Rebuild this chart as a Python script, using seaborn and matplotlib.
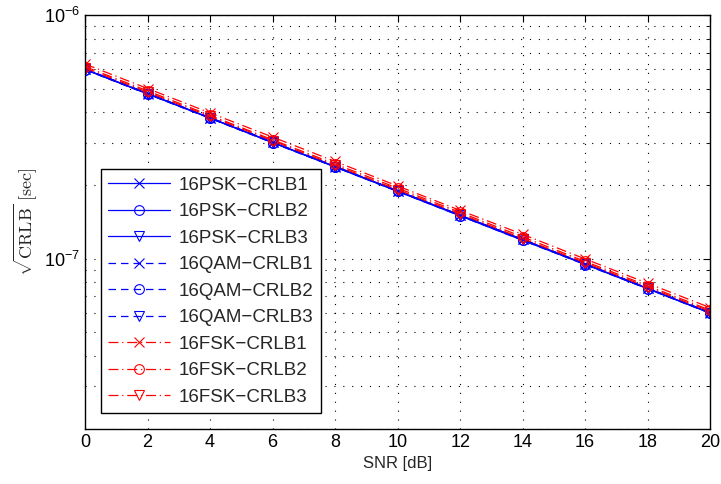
import matplotlib
matplotlib.use('Agg')
import matplotlib.pyplot as plt
from matplotlib.ticker import FixedLocator, LogLocator, FuncFormatter, NullFormatter
import numpy as np
import seaborn as sns

# SNR axis
snr = [0, 2, 4, 6, 8, 10, 12, 14, 16, 18, 20]

# sqrt(CRLB) in seconds
psk_crlb1 = [6.00e-7, 4.77e-7, 3.79e-7, 3.01e-7, 2.39e-7, 1.90e-7, 1.51e-7, 1.20e-7, 9.52e-8, 7.56e-8, 6.00e-8]
psk_crlb2 = [5.98e-7, 4.75e-7, 3.78e-7, 3.00e-7, 2.38e-7, 1.89e-7, 1.50e-7, 1.19e-7, 9.48e-8, 7.53e-8, 5.98e-8]
psk_crlb3 = [5.99e-7, 4.76e-7, 3.78e-7, 3.00e-7, 2.39e-7, 1.90e-7, 1.51e-7, 1.20e-7, 9.50e-8, 7.55e-8, 5.99e-8]
qam_crlb1 = [6.02e-7, 4.78e-7, 3.80e-7, 3.02e-7, 2.40e-7, 1.90e-7, 1.51e-7, 1.20e-7, 9.55e-8, 7.58e-8, 6.02e-8]
qam_crlb2 = [5.97e-7, 4.74e-7, 3.77e-7, 2.99e-7, 2.38e-7, 1.89e-7, 1.50e-7, 1.19e-7, 9.46e-8, 7.52e-8, 5.97e-8]
qam_crlb3 = [6.01e-7, 4.77e-7, 3.79e-7, 3.01e-7, 2.39e-7, 1.90e-7, 1.51e-7, 1.20e-7, 9.53e-8, 7.57e-8, 6.01e-8]
fsk_crlb1 = [6.30e-7, 5.00e-7, 3.97e-7, 3.16e-7, 2.51e-7, 1.99e-7, 1.58e-7, 1.26e-7, 9.98e-8, 7.93e-8, 6.30e-8]
fsk_crlb2 = [6.15e-7, 4.89e-7, 3.88e-7, 3.08e-7, 2.45e-7, 1.95e-7, 1.55e-7, 1.23e-7, 9.75e-8, 7.75e-8, 6.15e-8]
fsk_crlb3 = [6.08e-7, 4.83e-7, 3.84e-7, 3.05e-7, 2.42e-7, 1.92e-7, 1.53e-7, 1.21e-7, 9.63e-8, 7.65e-8, 6.08e-8]

labels = ['16PSK\u2212CRLB1', '16PSK\u2212CRLB2', '16PSK\u2212CRLB3',
          '16QAM\u2212CRLB1', '16QAM\u2212CRLB2', '16QAM\u2212CRLB3',
          '16FSK\u2212CRLB1', '16FSK\u2212CRLB2', '16FSK\u2212CRLB3']
series = [psk_crlb1, psk_crlb2, psk_crlb3, qam_crlb1, qam_crlb2, qam_crlb3,
          fsk_crlb1, fsk_crlb2, fsk_crlb3]

sns.set_style('white')
plt.rcParams['font.family'] = ['Liberation Sans', 'DejaVu Sans']
plt.rcParams['mathtext.fontset'] = 'cm'

fig = plt.figure(figsize=(7.21, 4.84), dpi=100)
ax = fig.add_axes([0.118, 0.1136, 0.867, 0.855])

colors = ['#0000ff'] * 6 + ['#ff0000'] * 3
styles = ['-'] * 3 + [(0, (6, 4))] * 3 + [(0, (8, 3, 1, 3))] * 3
markers = ['x', 'o', 'v'] * 3

for vals, lab, c, ls, m in zip(series, labels, colors, styles, markers):
    sns.lineplot(x=snr, y=vals, ax=ax, color=c, linestyle=ls, marker=m,
                 mfc='none', mec=c, mew=0.8, ms=7, lw=0.9, label=lab)

ax.set_yscale('log')
ax.set_xlim(0, 20)
ax.set_ylim(2e-8, 1e-6)
ax.xaxis.set_major_locator(FixedLocator(snr))
ax.yaxis.set_major_locator(LogLocator(base=10))
ax.yaxis.set_minor_locator(LogLocator(base=10, subs=np.arange(2, 10)))
ax.yaxis.set_minor_formatter(NullFormatter())
ax.yaxis.set_major_formatter(FuncFormatter(
    lambda v, p: r'$\mathregular{10^{%d}}$' % int(round(np.log10(v)))))

ax.grid(True, which='major', linestyle=(0, (1, 7)), color='black', lw=0.8)
ax.grid(True, which='minor', axis='y', linestyle=(0, (1, 7)), color='black', lw=0.8)

ax.tick_params(which='both', direction='in', top=True, right=True,
               labelsize=13, colors='black')
ax.tick_params(which='major', length=5)
ax.tick_params(which='minor', length=3)
for sp in ax.spines.values():
    sp.set_color('black')
    sp.set_linewidth(1.0)

ax.set_xlabel('SNR [dB]', fontsize=12)
ax.set_ylabel(r'$\sqrt{\mathrm{CRLB}}\ \mathrm{[sec]}$', fontsize=13)

leg = ax.legend(loc='lower left', bbox_to_anchor=(0.025, 0.038), fontsize=13.5,
                handlelength=3.3, handletextpad=0.45, fancybox=False, framealpha=1,
                edgecolor='black', borderaxespad=0, labelspacing=0.5)
leg.get_frame().set_linewidth(1.0)

fig.savefig('out.png', dpi=100)
